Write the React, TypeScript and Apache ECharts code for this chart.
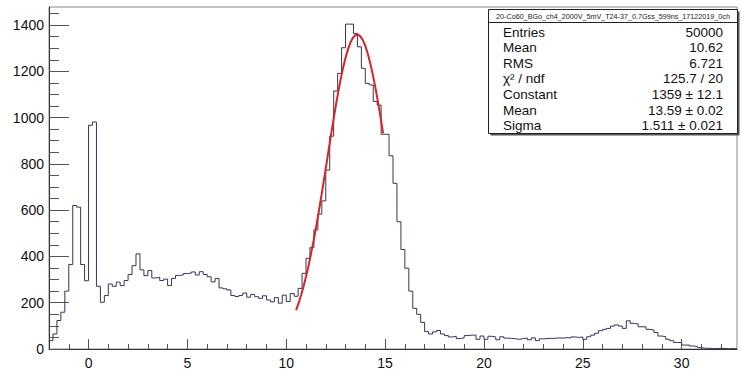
import React, { useEffect, useRef } from "react";
import * as echarts from "echarts";

// ---- data ----
const xMin = -2;
const xMax = 32.8;
const binWidth = 0.2;
const yMax = 1478;

// bin contents, bins of width 0.2 starting at x = -2
const binCounts = [
  36, 65, 123, 159, 250, 365, 620, 613, 365, 295,
  967, 981, 271, 202, 231, 281, 271, 289, 274, 296,
  322, 360, 411, 342, 317, 339, 307, 310, 296, 302,
  274, 305, 318, 320, 326, 328, 333, 320, 334, 322,
  312, 290, 305, 264, 260, 255, 231, 227, 231, 242,
  224, 236, 226, 219, 230, 212, 204, 222, 198, 233,
  205, 240, 228, 262, 327, 392, 438, 515, 583, 640,
  773, 920, 1115, 1191, 1302, 1404, 1404, 1364, 1306, 1213,
  1148, 1141, 1070, 1054, 928, 928, 835, 716, 550, 430,
  349, 250, 176, 150, 115, 75, 65, 74, 80, 65,
  58, 52, 55, 45, 48, 58, 60, 60, 42, 56,
  42, 55, 52, 40, 53, 47, 46, 44, 42, 45,
  47, 40, 48, 36, 44, 45, 46, 46, 48, 47,
  49, 48, 52, 50, 52, 42, 53, 60, 68, 79,
  85, 89, 99, 104, 99, 89, 122, 111, 108, 96,
  96, 85, 82, 71, 56, 53, 42, 36, 28, 28,
  17, 17, 13, 10, 6, 3, 3, 2, 2, 3,
  2, 1, 2, 1,
];

// red fit curve
const fitX = [
  10.5, 10.625, 10.75, 10.875, 11, 11.125, 11.25, 11.375, 11.5, 11.625,
  11.75, 11.875, 12, 12.125, 12.25, 12.375, 12.5, 12.625, 12.75, 12.875,
  13, 13.125, 13.25, 13.375, 13.5, 13.625, 13.75, 13.875, 14, 14.125,
  14.25, 14.375, 14.5, 14.625, 14.75, 14.9,
];
const fitY = [
  168, 198, 232, 270, 313, 359, 410, 464, 522, 583,
  647, 714, 781, 849, 917, 984, 1048, 1108, 1164, 1215,
  1259, 1296, 1325, 1345, 1357, 1359, 1351, 1335, 1310, 1276,
  1235, 1187, 1134, 1075, 1012, 933,
];

const xMajorTicks = [0, 5, 10, 15, 20, 25, 30];
const xMinorTicks = [-1, 1, 2, 3, 4, 6, 7, 8, 9, 11, 12, 13, 14, 16, 17, 18, 19, 21, 22, 23, 24, 26, 27, 28, 29, 31, 32];
const yMajorTicks = [0, 200, 400, 600, 800, 1000, 1200, 1400];
const yMinorTicks = [50, 100, 150, 250, 300, 350, 450, 500, 550, 650, 700, 750, 850, 900, 950, 1050, 1100, 1150, 1250, 1300, 1350, 1450];

const statsTitle = "20-Co60_BGo_ch4_2000V_5mV_T24-37_0.7Gss_599ns_17122019_0ch";
const statLabels = ["Entries", "Mean", "RMS", "χ² / ndf", "Constant", "Mean", "Sigma"];
const statValues = ["50000", "10.62", "6.721", "125.7 / 20", "1359 ± 12.1", "13.59 ± 0.02", "1.511 ± 0.021"];

const FONT = "'Liberation Sans', Arial, Helvetica, sans-serif";

export default function App() {
  const ref = useRef<HTMLDivElement>(null);

  useEffect(() => {
    if (!ref.current) return;
    const chart = echarts.init(ref.current, null, { renderer: "svg" });

    const histData: [number, number][] = binCounts.map((v, i) => [xMin + i * binWidth, v]);
    histData.push([xMin + binCounts.length * binWidth, binCounts[binCounts.length - 1]]);
    const fitData = fitX.map((x, i) => [x, fitY[i]]);

    // stats box
    const boxX = 488.5, boxY = 9.5, boxW = 249, boxH = 124;
    const rowTop = 32, rowStep = 15.6;
    const graphics: any[] = [
      { type: "rect", shape: { x: boxX + 2, y: boxY + 2, width: boxW, height: boxH }, style: { fill: "#555" }, z: 100 },
      { type: "rect", shape: { x: boxX, y: boxY, width: boxW, height: boxH }, style: { fill: "#fff", stroke: "#222", lineWidth: 1 }, z: 101 },
      { type: "line", shape: { x1: boxX, y1: 22.5, x2: boxX + boxW, y2: 22.5 }, style: { stroke: "#222", lineWidth: 1 }, z: 102 },
      {
        type: "text", x: boxX + boxW / 2, y: 16, z: 102,
        style: { text: statsTitle, fontFamily: FONT, fontSize: 7.2, fill: "#222", align: "center", verticalAlign: "middle" },
      },
    ];
    statLabels.forEach((lab, i) => {
      graphics.push({
        type: "text", x: 503, y: rowTop + i * rowStep, z: 102,
        style: { text: lab, fontFamily: FONT, fontSize: 13.5, fill: "#111", align: "left", verticalAlign: "middle" },
      });
      graphics.push({
        type: "text", x: 723, y: rowTop + i * rowStep, z: 102,
        style: { text: statValues[i], fontFamily: FONT, fontSize: 13.5, fill: "#111", align: "right", verticalAlign: "middle" },
      });
    });

    const axisLineStyle = { color: "#333", width: 1 };
    const tickColor = "#555";
    const plain = (v: number) => String(v);

    chart.setOption({
      animation: false,
      backgroundColor: "#fff",
      grid: { left: 49, right: 5, top: 7, bottom: 24, show: true, borderColor: "#888", borderWidth: 1, backgroundColor: "#fff" },
      xAxis: [
        {
          type: "value", min: xMin, max: xMax, position: "bottom",
          axisLine: { show: true, onZero: false, lineStyle: axisLineStyle },
          axisTick: { show: true, inside: true, length: 10, customValues: xMajorTicks, lineStyle: { color: tickColor } },
          axisLabel: { show: true, customValues: xMajorTicks, formatter: plain, fontFamily: FONT, fontSize: 14, color: "#111", margin: 7 },
          splitLine: { show: false },
        },
        {
          type: "value", min: xMin, max: xMax, position: "bottom", offset: 0,
          axisLine: { show: false, onZero: false },
          axisTick: { show: true, inside: true, length: 5, customValues: xMinorTicks, lineStyle: { color: tickColor } },
          axisLabel: { show: false },
          splitLine: { show: false },
        },
      ],
      yAxis: [
        {
          type: "value", min: 0, max: yMax, position: "left",
          axisLine: { show: true, onZero: false, lineStyle: axisLineStyle },
          axisTick: { show: true, inside: true, length: 20, customValues: yMajorTicks, lineStyle: { color: tickColor } },
          axisLabel: { show: true, customValues: yMajorTicks, formatter: plain, fontFamily: FONT, fontSize: 14, color: "#111", margin: 5 },
          splitLine: { show: false },
        },
        {
          type: "value", min: 0, max: yMax, position: "left", offset: 0,
          axisLine: { show: false, onZero: false },
          axisTick: { show: true, inside: true, length: 10, customValues: yMinorTicks, lineStyle: { color: tickColor } },
          axisLabel: { show: false },
          splitLine: { show: false },
        },
      ],
      series: [
        {
          type: "line", xAxisIndex: 0, yAxisIndex: 0, step: "end", symbol: "none",
          data: histData, lineStyle: { color: "#34345c", width: 1 }, z: 3,
        },
        {
          type: "line", xAxisIndex: 0, yAxisIndex: 0, smooth: false, symbol: "none",
          data: fitData, lineStyle: { color: "#d9232a", width: 2 }, z: 4,
        },
      ],
      graphic: graphics,
    });

    return () => chart.dispose();
  }, []);

  return (
    <div
      ref={ref}
      style={{ position: "fixed", left: 0, top: 0, width: 742, height: 373, background: "#fff" }}
    />
  );
}
